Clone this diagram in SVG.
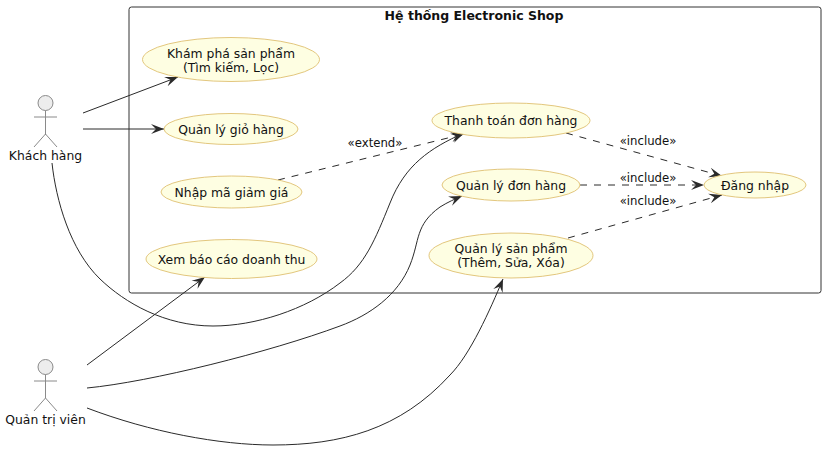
<svg xmlns="http://www.w3.org/2000/svg" width="825" height="476" viewBox="0 0 825 476">
<style>
text{font-family:"DejaVu Sans",sans-serif;font-size:12.400px;fill:#111;text-anchor:middle}
.t{font-weight:bold;font-size:12.500px}
.s{font-size:11.700px}
.u{fill:#fefee2;stroke:#dfc070;stroke-width:.9}
.a{fill:#ededed;stroke:#8a8a8a;stroke-width:1}
.l{fill:none;stroke:#8a8a8a;stroke-width:1}
.c{fill:none;stroke:#2a2a2a;stroke-width:1;marker-end:url(#h)}
.d{stroke-dasharray:7 7}
</style>
<defs><marker id="h" markerUnits="userSpaceOnUse" markerWidth="16" markerHeight="14" refX="13" refY="6" orient="auto" viewBox="0 0 16 12"><path d="M0 1L13 6L0 11L5 6Z" fill="#2a2a2a"/></marker></defs>
<rect width="825" height="476" fill="#fff"/>
<g id="system"><rect x="129" y="7" width="692" height="286" rx="2.500" fill="#fff" stroke="#333" stroke-width="1"/><text class="t" x="474" y="20">Hệ thống Electronic Shop</text></g>
<g id="connectors">
<path class="c" d="M83 113L178 77"/>
<path class="c" d="M83 129L164 129"/>
<path class="c" d="M52 163C56 200 70 250 100 279C125 303 165 326 213 326C255 326 305 310 340 283C365 265 375 240 390 203C405 165 430 148 464 133"/>
<path class="c" d="M87 365L205 277"/>
<path class="c" d="M87 388C150 382 270 352 340 326C370 315 398 295 410 265C420 240 415 225 440 207C448 202 455 199 462 196"/>
<path class="c" d="M87 408C150 432 220 445 273 445C340 445 400 430 450 375C470 355 490 310 503 279"/>
<path class="c d" d="M278 180L464 134"/>
<path class="c d" d="M566 133L722 176"/>
<path class="c d" d="M580 185L704 185"/>
<path class="c d" d="M568 238L722 195"/>
<text class="s" x="375" y="147">«extend»</text>
<text class="s" x="648" y="145">«include»</text>
<text class="s" x="648" y="182">«include»</text>
<text class="s" x="648" y="205">«include»</text>
</g>
<g id="actor1"><circle class="a" cx="45.500" cy="103" r="7.500"/><path class="l" d="M45.500 110.500V135M34 117H57M34 147L45.500 134L57 147"/><text x="45.500" y="160">Khách hàng</text></g>
<g id="actor2"><circle class="a" cx="45.500" cy="367" r="7.500"/><path class="l" d="M45.500 374.500V398M34 381H57M34 411L45.500 398L57 411"/><text x="45.500" y="424">Quản trị viên</text></g>
<g id="uc1"><ellipse class="u" cx="231" cy="59.500" rx="88.500" ry="22"/><text x="231" y="58">Khám phá sản phẩm</text><text x="231" y="72">(Tìm kiếm, Lọc)</text></g>
<g id="uc2"><ellipse class="u" cx="231" cy="129" rx="67" ry="15.500"/><text x="231" y="134">Quản lý giỏ hàng</text></g>
<g id="uc3"><ellipse class="u" cx="231.500" cy="192" rx="70.500" ry="16"/><text x="231.500" y="197">Nhập mã giảm giá</text></g>
<g id="uc4"><ellipse class="u" cx="231.500" cy="259" rx="85.500" ry="19.500"/><text x="231.500" y="264">Xem báo cáo doanh thu</text></g>
<g id="uc5"><ellipse class="u" cx="511" cy="120.500" rx="79" ry="17.500"/><text x="511" y="125">Thanh toán đơn hàng</text></g>
<g id="uc6"><ellipse class="u" cx="511" cy="185" rx="69" ry="16"/><text x="511" y="190">Quản lý đơn hàng</text></g>
<g id="uc7"><ellipse class="u" cx="511" cy="255.500" rx="82" ry="22.500"/><text x="511" y="253">Quản lý sản phẩm</text><text x="511" y="267">(Thêm, Sửa, Xóa)</text></g>
<g id="uc8"><ellipse class="u" cx="755" cy="185" rx="51" ry="13"/><text x="755" y="190">Đăng nhập</text></g>
</svg>
